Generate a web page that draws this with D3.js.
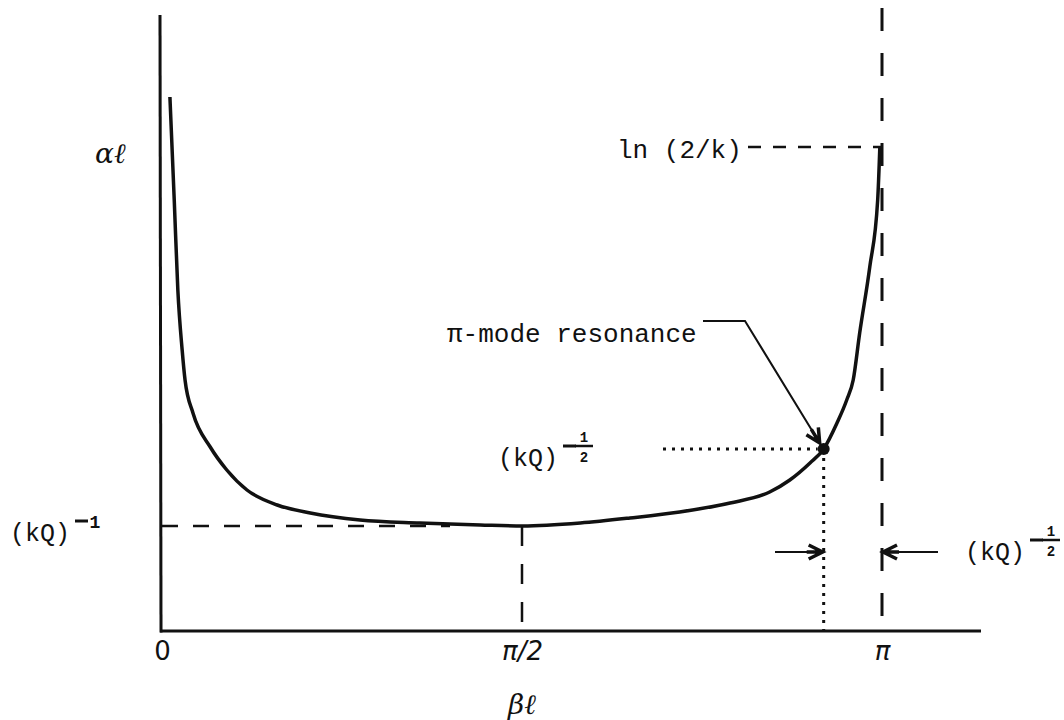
<!DOCTYPE html>
<html lang="en">
<head>
  <meta charset="UTF-8">
  <title>alpha-l vs beta-l</title>
  <script src="https://cdnjs.cloudflare.com/ajax/libs/d3/7.8.5/d3.min.js"></script>
  <style>
    body { margin: 0; background: #fff; }
    .mono { font-family: "Liberation Mono", "Courier New", monospace; fill: #111; }
    .math { font-family: "DejaVu Serif", "Liberation Serif", serif; font-style: italic; fill: #111; }
  </style>
</head>
<body>
  <div id="container"></div>
  <script>
    const svg_width = 1064;
    const svg_height = 720;

    // curve: beta*l as a fraction of pi, alpha*l in arbitrary units
    var betaFrac = [0.011, 0.017, 0.022, 0.028, 0.032, 0.043, 0.067, 0.090, 0.118, 0.160,
      0.206, 0.275, 0.358, 0.442, 0.501, 0.581, 0.650, 0.719, 0.789, 0.844,
      0.872, 0.900, 0.919, 0.9375, 0.951, 0.960, 0.969, 0.983, 0.994, 0.997];
    var alphaL = [5.34, 4.31, 3.41, 2.81, 2.51, 2.18, 1.84, 1.61, 1.41, 1.26,
      1.18, 1.11, 1.08, 1.06, 1.05, 1.08, 1.13, 1.19, 1.28, 1.39,
      1.51, 1.68, 1.82, 2.08, 2.31, 2.51, 2.98, 3.64, 4.31, 4.84];

    var tickFrac = [0, 0.5, 1];
    var tickLabels = ["0", "\u03c0/2", "\u03c0"];

    var levelKQ1 = 1.05;    // (kQ)^-1
    var levelLn = 4.84;     // ln(2/k)
    var resFrac = 0.919;    // pi-mode resonance
    var resAlpha = 1.82;    // (kQ)^-1/2
    var arrowLevel = 0.79;

    var svg = d3.select("#container")
      .append('svg')
      .attr('width', svg_width)
      .attr('height', svg_height);

    var x_scale = d3.scaleLinear().domain([0, Math.PI]).range([162, 882]);
    var y_scale = d3.scaleLinear().domain([0, 6]).range([631, 31]);

    // axes
    svg.append('line')
      .attr('x1', 160).attr('y1', 15).attr('x2', 161).attr('y2', y_scale(0) + 1.5)
      .attr('stroke', '#111').attr('stroke-width', 3);
    svg.append('line')
      .attr('x1', 160).attr('y1', y_scale(0)).attr('x2', 981).attr('y2', y_scale(0))
      .attr('stroke', '#111').attr('stroke-width', 3);

    var x_axis = d3.axisBottom(x_scale)
      .tickValues(tickFrac.map(function (f) { return f * Math.PI; }))
      .tickFormat(function (d, i) { return tickLabels[i]; })
      .tickSize(0).tickPadding(11);
    var gx = svg.append('g')
      .attr('transform', 'translate(0,' + y_scale(0) + ')')
      .call(x_axis);
    gx.select('.domain').remove();
    gx.selectAll('text')
      .attr('font-size', 26)
      .attr('font-family', '"DejaVu Sans", sans-serif')
      .attr('fill', '#111');
    gx.selectAll('text').filter(function (d, i) { return i > 0; })
      .attr('font-style', 'italic');

    // dashed guides
    var guides = svg.append('g').attr('stroke', '#111').attr('fill', 'none');
    guides.append('line')
      .attr('x1', x_scale(0)).attr('x2', x_scale(0.4 * Math.PI))
      .attr('y1', y_scale(levelKQ1)).attr('y2', y_scale(levelKQ1))
      .attr('stroke-width', 2.5).attr('stroke-dasharray', '16,15');
    guides.append('line')
      .attr('x1', x_scale(Math.PI / 2)).attr('x2', x_scale(Math.PI / 2))
      .attr('y1', y_scale(levelKQ1)).attr('y2', y_scale(0))
      .attr('stroke-width', 2.5).attr('stroke-dasharray', '20,18');
    guides.append('line')
      .attr('x1', x_scale(Math.PI)).attr('x2', x_scale(Math.PI))
      .attr('y1', 8).attr('y2', y_scale(0))
      .attr('stroke-width', 3).attr('stroke-dasharray', '23,22');
    guides.append('line')
      .attr('x1', 748).attr('x2', x_scale(Math.PI))
      .attr('y1', y_scale(levelLn)).attr('y2', y_scale(levelLn))
      .attr('stroke-width', 2.5).attr('stroke-dasharray', '13,12');
    // dotted guides at the resonance
    guides.append('line')
      .attr('x1', 663).attr('x2', x_scale(resFrac * Math.PI) - 6)
      .attr('y1', y_scale(resAlpha)).attr('y2', y_scale(resAlpha))
      .attr('stroke-width', 3).attr('stroke-dasharray', '3,6');
    guides.append('line')
      .attr('x1', x_scale(resFrac * Math.PI)).attr('x2', x_scale(resFrac * Math.PI))
      .attr('y1', y_scale(resAlpha)).attr('y2', y_scale(0))
      .attr('stroke-width', 3).attr('stroke-dasharray', '3,6');

    // the curve
    var line = d3.line()
      .x(function (d) { return x_scale(d[0] * Math.PI); })
      .y(function (d) { return y_scale(d[1]); })
      .curve(d3.curveMonotoneX);
    svg.append('path')
      .datum(d3.zip(betaFrac, alphaL))
      .attr('d', line)
      .attr('fill', 'none')
      .attr('stroke', '#111')
      .attr('stroke-width', 3.5);

    svg.append('circle')
      .attr('cx', x_scale(resFrac * Math.PI))
      .attr('cy', y_scale(resAlpha))
      .attr('r', 6)
      .attr('fill', '#111');

    // arrows
    function arrowHead(g, x, y, angle) {
      g.append('path')
        .attr('d', 'M-14,-7 L0,0 L-14,7 M-16,0 L0,0')
        .attr('transform', 'translate(' + x + ',' + y + ') rotate(' + angle + ')')
        .attr('fill', 'none').attr('stroke', '#111').attr('stroke-width', 3.5);
    }
    var arrows = svg.append('g').attr('stroke', '#111').attr('fill', 'none');
    var ay = y_scale(arrowLevel);
    var xRes = x_scale(resFrac * Math.PI);
    var xPi = x_scale(Math.PI);
    arrows.append('line').attr('x1', 775).attr('x2', xRes - 2).attr('y1', ay).attr('y2', ay)
      .attr('stroke-width', 2);
    arrowHead(arrows, xRes - 1, ay, 0);
    arrows.append('line').attr('x1', 938).attr('x2', xPi + 2).attr('y1', ay).attr('y2', ay)
      .attr('stroke-width', 2);
    arrowHead(arrows, xPi + 1, ay, 180);

    // leader from the label to the resonance point
    var ly = 321;
    var tipX = xRes - 4, tipY = y_scale(resAlpha) - 6;
    var tipAngle = Math.atan2(tipY - ly, tipX - 745) * 180 / Math.PI;
    arrows.append('path')
      .attr('d', 'M703,' + ly + ' L745,' + ly + ' L' + tipX + ',' + tipY)
      .attr('stroke-width', 2);
    arrowHead(arrows, tipX, tipY, tipAngle);

    // labels
    svg.append('text').attr('class', 'math')
      .attr('x', 95).attr('y', 163).attr('font-size', 28).text('\u03b1\u2113');
    svg.append('text').attr('class', 'math')
      .attr('x', 522).attr('y', 714).attr('text-anchor', 'middle')
      .attr('font-size', 28).text('\u03b2\u2113');

    svg.append('text').attr('class', 'mono')
      .attr('x', 617).attr('y', 158).attr('font-size', 26).text('ln (2/k)');
    svg.append('text').attr('class', 'mono')
      .attr('x', 447).attr('y', 342).attr('font-size', 26)
      .text('\u03c0-mode resonance');

    // (kQ) with a superscript
    function kq(x, y, half) {
      var g = svg.append('g');
      g.append('text').attr('class', 'mono')
        .attr('x', x).attr('y', y).attr('font-size', 25).text('(kQ)');
      var sx = x + 65, sy = y - 20;
      g.append('line').attr('x1', sx).attr('x2', sx + 13).attr('y1', sy).attr('y2', sy)
        .attr('stroke', '#111').attr('stroke-width', 3);
      if (half) {
        g.append('text').attr('class', 'mono').attr('x', sx + 21).attr('y', sy - 4)
          .attr('text-anchor', 'middle').attr('font-size', 14).attr('font-weight', 'bold').text('1');
        g.append('line').attr('x1', sx + 12).attr('x2', sx + 30).attr('y1', sy).attr('y2', sy)
          .attr('stroke', '#111').attr('stroke-width', 2.5);
        g.append('text').attr('class', 'mono').attr('x', sx + 21).attr('y', sy + 16)
          .attr('text-anchor', 'middle').attr('font-size', 14).attr('font-weight', 'bold').text('2');
      } else {
        g.append('text').attr('class', 'mono').attr('x', sx + 20).attr('y', sy + 7)
          .attr('text-anchor', 'middle').attr('font-size', 18).attr('font-weight', 'bold').text('1');
      }
    }
    kq(10, 541, false);
    kq(498, 466, true);
    kq(965, 560, true);
  </script>
</body>
</html>
